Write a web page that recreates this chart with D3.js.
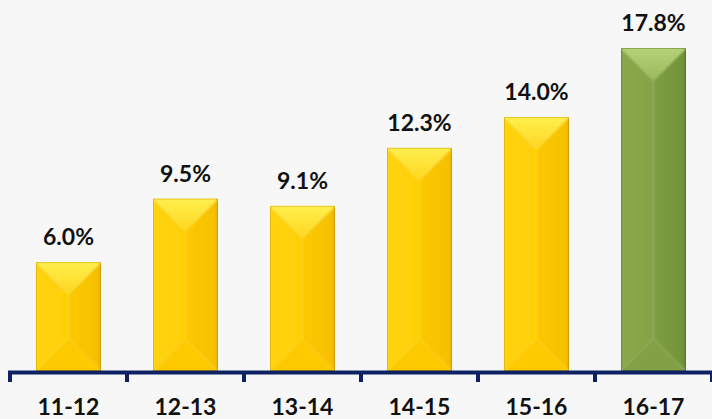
<!DOCTYPE html>
<html>
<head>
<meta charset="utf-8">
<script src="https://cdn.jsdelivr.net/npm/d3@7"></script>
<style>
  html, body { margin: 0; padding: 0; background: #f7f7f7; }
  svg { display: block; }
  text { font-family: Lato, "Open Sans", sans-serif; font-weight: 700; fill: #111; }
</style>
</head>
<body>
<svg id="chart" width="712" height="419"></svg>
<script>
// Year-on-year growth by fiscal year
const categories = ["11-12", "12-13", "13-14", "14-15", "15-16", "16-17"];
const values = [6.0, 9.5, 9.1, 12.3, 14.0, 17.8];
const valueLabels = ["6.0%", "9.5%", "9.1%", "12.3%", "14.0%", "17.8%"];
const highlight = ["16-17"];

const W = 712, H = 419;
const baseY = 371;
const svg = d3.select("#chart");

svg.append("rect").attr("width", W).attr("height", H).attr("fill", "#f7f7f7");

const x = d3.scaleBand().domain(categories).range([10, 712]).padding(0);
const y = d3.scaleLinear().domain([0, 17.8]).range([baseY, 48]);
const barW = 65;

// bevelled bar palettes: top, left, right, bottom faces + edge
const palettes = {
  gold:  { top0: "#fff150", top1: "#ffd620", left0: "#ffd412", left1: "#ffcf04", right0: "#fcc900", right1: "#f6c000", bottom: "#fdca02", edge: "#c08f00" },
  green: { top0: "#b6d478", top1: "#9aba5c", left0: "#8aa94c", left1: "#84a346", right0: "#7e9e42", right1: "#749338", bottom: "#82a144", edge: "#4a6420" }
};

const defs = svg.append("defs");
defs.append("filter").attr("id", "soft").attr("x", "-5%").attr("y", "-5%").attr("width", "110%").attr("height", "110%")
  .append("feGaussianBlur").attr("stdDeviation", 0.9);
Object.entries(palettes).forEach(([k, p]) => {
  const gt = defs.append("linearGradient").attr("id", "top-" + k).attr("x1", 0).attr("y1", 0).attr("x2", 0).attr("y2", 1);
  gt.append("stop").attr("offset", 0).attr("stop-color", p.top0);
  gt.append("stop").attr("offset", 1).attr("stop-color", p.top1);
  const gl = defs.append("linearGradient").attr("id", "left-" + k).attr("x1", 0).attr("y1", 0).attr("x2", 1).attr("y2", 0);
  gl.append("stop").attr("offset", 0).attr("stop-color", p.left0);
  gl.append("stop").attr("offset", 1).attr("stop-color", p.left1);
  const gr = defs.append("linearGradient").attr("id", "right-" + k).attr("x1", 0).attr("y1", 0).attr("x2", 1).attr("y2", 0);
  gr.append("stop").attr("offset", 0).attr("stop-color", p.right0);
  gr.append("stop").attr("offset", 0.88).attr("stop-color", p.right1);
  gr.append("stop").attr("offset", 1).attr("stop-color", p.edge);
});

const data = categories.map((c, i) => ({ cat: c, v: values[i], label: valueLabels[i], pal: highlight.includes(c) ? "green" : "gold" }));

const bars = svg.append("g").selectAll("g").data(data).join("g");

bars.each(function(d, i) {
  const g = d3.select(this);
  const cx = x(d.cat) + x.bandwidth() / 2;
  const x0 = cx - barW / 2, x1 = cx + barW / 2;
  const y0 = y(d.v), y1 = y(0);
  const h = barW / 2;
  const p = palettes[d.pal];
  const poly = pts => pts.map(q => q.join(",")).join(" ");
  defs.append("clipPath").attr("id", "clip-" + i)
    .append("rect").attr("x", x0).attr("y", y0).attr("width", barW).attr("height", y1 - y0);
  const faces = g.append("g").attr("clip-path", `url(#clip-${i})`).append("g").attr("filter", "url(#soft)");
  faces.append("polygon").attr("points", poly([[x0 - 2, y0 - 2], [cx, y0 + h], [cx, y1 - h], [x0 - 2, y1 + 2]])).attr("fill", `url(#left-${d.pal})`);
  faces.append("polygon").attr("points", poly([[x1 + 2, y0 - 2], [cx, y0 + h], [cx, y1 - h], [x1 + 2, y1 + 2]])).attr("fill", `url(#right-${d.pal})`);
  faces.append("polygon").attr("points", poly([[x0 - 2, y0 - 2], [x1 + 2, y0 - 2], [cx, y0 + h]])).attr("fill", `url(#top-${d.pal})`);
  faces.append("polygon").attr("points", poly([[x0 - 2, y1 + 2], [x1 + 2, y1 + 2], [cx, y1 - h]])).attr("fill", p.bottom);
  g.append("rect").attr("x", x0 + 0.5).attr("y", y0 + 0.5).attr("width", barW - 1).attr("height", y1 - y0 - 1)
    .attr("fill", "none").attr("stroke", p.edge).attr("stroke-opacity", 0.4).attr("stroke-width", 1);
  g.append("text").attr("x", cx).attr("y", y0 - 17).attr("text-anchor", "middle")
    .style("font-size", "23px").text(d.label);
});

// axis: baseline, boundary ticks, category labels
const axis = svg.append("g");
axis.append("line").attr("x1", 8).attr("x2", W).attr("y1", baseY + 1.5).attr("y2", baseY + 1.5)
  .attr("stroke", "#0d2163").attr("stroke-width", 4);
const bounds = categories.map(c => x(c)).concat([x.range()[1]]);
axis.selectAll("line.tick").data(bounds).join("line").attr("class", "tick")
  .attr("x1", b => b).attr("x2", b => b).attr("y1", baseY).attr("y2", 382)
  .attr("stroke", "#0d2163").attr("stroke-width", 4);
axis.selectAll("text").data(categories).join("text")
  .attr("x", c => x(c) + x.bandwidth() / 2).attr("y", 415).attr("text-anchor", "middle")
  .style("font-size", "23px").text(c => c);
</script>
</body>
</html>
